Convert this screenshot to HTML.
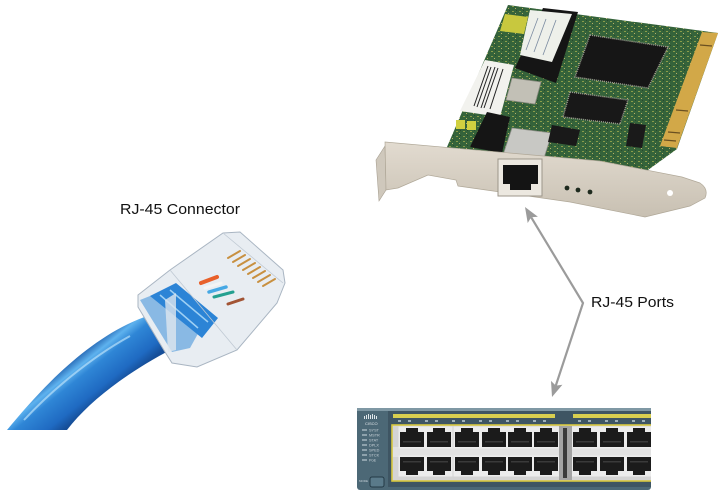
<!DOCTYPE html>
<html><head><meta charset="utf-8"><style>
html,body{margin:0;padding:0;background:#fff;}
svg{display:block;}
</style></head><body>
<svg width="727" height="496" viewBox="0 0 727 496" xmlns="http://www.w3.org/2000/svg">
<defs>
  <linearGradient id="cab" gradientUnits="userSpaceOnUse" x1="64" y1="364" x2="96" y2="404">
    <stop offset="0" stop-color="#1a58a8"/>
    <stop offset="0.22" stop-color="#5eb2ee"/>
    <stop offset="0.4" stop-color="#2f86d6"/>
    <stop offset="0.8" stop-color="#1f6ac2"/>
    <stop offset="1" stop-color="#164e98"/>
  </linearGradient>
  <linearGradient id="brk" x1="0" y1="0" x2="0" y2="1">
    <stop offset="0" stop-color="#e2dbd0"/>
    <stop offset="1" stop-color="#c8c0b2"/>
  </linearGradient>
  <pattern id="pcb" width="7" height="5" patternUnits="userSpaceOnUse">
    <rect width="7" height="5" fill="#35633a"/>
    <rect x="1" y="1" width="2" height="1" fill="#8a9c4a"/>
    <rect x="4" y="3" width="1" height="1" fill="#b8b066"/>
    <rect x="5" y="0" width="1" height="1" fill="#284a2c"/>
  </pattern>
  <g id="pT"><rect x="-1.5" y="-1.5" width="27" height="22" fill="#ececec"/><path d="M0,4 h6 v-4 h12 v4 h6 v15 h-24 z" fill="#1b1b1b"/><rect x="3" y="13" width="18" height="1.5" fill="#3a3a3a"/></g>
  <g id="pB"><rect x="-1.5" y="-1.5" width="27" height="21" fill="#ececec"/><path d="M0,0 h24 v14 h-6 v4 h-12 v-4 h-6 z" fill="#1b1b1b"/><rect x="3" y="4" width="18" height="1.5" fill="#3a3a3a"/></g>
</defs>
<rect width="727" height="496" fill="#fff"/>

<!-- ===== NIC card ===== -->
<polygon points="508,5 718,33 677,149 648,170 445,162 447,147" fill="url(#pcb)"/>
<polygon points="702,32 718,33 677,148 660,146" fill="#d2a848"/>
<g stroke="#6a5020" stroke-width="1.2">
  <line x1="700" y1="45" x2="712" y2="46"/>
  <line x1="668" y1="132" x2="680" y2="133"/>
  <line x1="664" y1="140" x2="676" y2="141"/>
  <line x1="676" y1="110" x2="688" y2="111"/>
</g>
<polygon points="505,14 528,17 524,34 500,31" fill="#c8c83e"/>
<polygon points="543,8 578,12 556,83 515,68" fill="#151515"/>
<polygon points="530,10 572,14 552,62 520,55" fill="#eef0ea"/>
<g stroke="#7a8aa0" stroke-width="0.8">
  <line x1="538" y1="18" x2="526" y2="50"/>
  <line x1="546" y1="19" x2="534" y2="52"/>
  <line x1="556" y1="20" x2="543" y2="55"/>
</g>
<polygon points="485,60 514,65 500,117 460,111" fill="#f2f2ee"/>
<g stroke="#222" stroke-width="1">
  <line x1="488" y1="66" x2="474" y2="106"/>
  <line x1="491" y1="67" x2="477" y2="107"/>
  <line x1="495" y1="67" x2="481" y2="108"/>
  <line x1="498" y1="68" x2="484" y2="108"/>
  <line x1="503" y1="69" x2="490" y2="109"/>
</g>
<polygon points="512,78 541,82 535,104 506,100" fill="#c2c0b6" stroke="#8a8a80" stroke-width="0.8"/>
<polygon points="590,35 668,47 648,88 575,77" fill="#161616" stroke="#9a9a90" stroke-width="1.5" stroke-dasharray="1,1"/>
<polygon points="570,92 628,100 620,124 563,117" fill="#181818" stroke="#9a9a90" stroke-width="1.5" stroke-dasharray="1,1"/>
<polygon points="630,123 646,125 642,148 626,146" fill="#1a1a1a"/>
<rect x="456" y="120" width="9" height="9" fill="#d0d040"/>
<rect x="467" y="121" width="9" height="9" fill="#d0d040"/>
<polygon points="487,112 510,117 502,153 470,147" fill="#151515"/>
<polygon points="512,128 552,133 543,161 502,158" fill="#c8c8c4" stroke="#8e8e88" stroke-width="0.8"/>
<polygon points="552,125 580,130 576,146 548,142" fill="#191919"/>

<!-- bracket -->
<polygon points="376,160 385,146 386,190 379,201" fill="#cfc8bc" stroke="#a8a092" stroke-width="0.6"/>
<path d="M385,142 L600,161 L682,177 L700,183 Q709,189 705,198 L690,206 L645,217 L570,202 L458,186 L456,180 L428,175 L398,188 L386,190 Z" fill="url(#brk)" stroke="#b0a898" stroke-width="0.7"/>
<circle cx="670" cy="193" r="3" fill="#fff"/>
<rect x="498" y="159" width="44" height="37" fill="#ece8e0" stroke="#9c968a" stroke-width="1"/>
<path d="M503,165 h35 v19 h-7 v6 h-21 v-6 h-7 z" fill="#141414"/>
<circle cx="567" cy="188" r="2.4" fill="#1e2a1e"/>
<circle cx="578" cy="190" r="2.4" fill="#1e2a1e"/>
<circle cx="590" cy="192" r="2.4" fill="#1e2a1e"/>

<!-- ===== cable ===== -->
<path d="M7,430 C40,390 90,335 150,315 L180,345 C130,370 90,400 67,430 Z" fill="url(#cab)"/>
<path d="M24,420 C50,392 90,358 130,336" stroke="#b8e0fa" stroke-width="2" fill="none" opacity="0.7"/>

<!-- ===== connector ===== -->
<polygon points="138,295 170,270 223,233 240,232 283,270 285,283 277,303 237,350 197,367 172,363 165,352 138,307" fill="#e8edf2" stroke="#a9b5c2" stroke-width="1"/>
<polygon points="140,300 160,292 200,330 190,348 172,352" fill="#3a8ed8" opacity="0.55"/>
<polygon points="150,296 176,283 218,318 202,338" fill="#2c84d6"/>
<g stroke="#9fd0f4" stroke-width="1.5">
  <line x1="160" y1="295" x2="198" y2="328"/>
  <line x1="170" y1="290" x2="208" y2="322"/>
</g>
<polygon points="165,300 176,293 176,350 168,352" fill="#dfe6ee" opacity="0.8"/>
<g stroke-linecap="round">
  <line x1="201" y1="283" x2="217" y2="277" stroke="#e8602a" stroke-width="4"/>
  <line x1="205" y1="288" x2="221" y2="283" stroke="#f4f4f4" stroke-width="3"/>
  <line x1="209" y1="292" x2="226" y2="287" stroke="#46a8e4" stroke-width="3.5"/>
  <line x1="214" y1="297" x2="233" y2="292" stroke="#24a090" stroke-width="3"/>
  <line x1="228" y1="304" x2="243" y2="299" stroke="#a25434" stroke-width="3"/>
</g>
<g stroke="#c89040" stroke-width="2" stroke-linecap="round">
  <line x1="228" y1="258" x2="240" y2="251"/>
  <line x1="233" y1="262" x2="245" y2="255"/>
  <line x1="238" y1="266" x2="250" y2="259"/>
  <line x1="243" y1="270" x2="255" y2="263"/>
  <line x1="248" y1="274" x2="260" y2="267"/>
  <line x1="253" y1="278" x2="265" y2="271"/>
  <line x1="258" y1="282" x2="270" y2="275"/>
  <line x1="263" y1="286" x2="275" y2="279"/>
</g>
<g stroke="#c0cad4" stroke-width="0.8" fill="none">
  <line x1="170" y1="270" x2="237" y2="350"/>
  <line x1="223" y1="233" x2="283" y2="283"/>
</g>

<!-- ===== labels ===== -->
<text x="120" y="214" font-family="'Liberation Sans', sans-serif" font-size="15" fill="#111" textLength="120" lengthAdjust="spacingAndGlyphs">RJ-45 Connector</text>
<text x="591" y="307" font-family="'Liberation Sans', sans-serif" font-size="15" fill="#111" textLength="83" lengthAdjust="spacingAndGlyphs">RJ-45 Ports</text>

<!-- ===== arrows ===== -->
<g stroke="#9b9b9b" stroke-width="2.2" fill="none">
  <polyline points="531.2,217.3 583,303 555.8,385.6"/>
</g>
<polygon points="525,207 537.9,216.8 531.2,217.3 527.7,223" fill="#9b9b9b"/>
<polygon points="552,397 562.4,384.7 555.8,385.6 551,380.9" fill="#9b9b9b"/>

<!-- ===== switch ===== -->
<rect x="357" y="408" width="294" height="82" rx="3" fill="#4c6876"/>
<rect x="357" y="408" width="294" height="3" fill="#7f98a4"/>
<rect x="388" y="411" width="263" height="76" fill="#3e5563"/>
<rect x="393" y="414" width="162" height="4" fill="#d8cf50"/>
<rect x="573" y="414" width="78" height="4" fill="#d8cf50"/>
<g fill="#9fb0b8">
  <rect x="398" y="420" width="3" height="2"/><rect x="408" y="420" width="3" height="2"/>
  <rect x="425" y="420" width="3" height="2"/><rect x="435" y="420" width="3" height="2"/>
  <rect x="452" y="420" width="3" height="2"/><rect x="462" y="420" width="3" height="2"/>
  <rect x="479" y="420" width="3" height="2"/><rect x="489" y="420" width="3" height="2"/>
  <rect x="506" y="420" width="3" height="2"/><rect x="516" y="420" width="3" height="2"/>
  <rect x="533" y="420" width="3" height="2"/><rect x="543" y="420" width="3" height="2"/>
  <rect x="578" y="420" width="3" height="2"/><rect x="588" y="420" width="3" height="2"/>
  <rect x="605" y="420" width="3" height="2"/><rect x="615" y="420" width="3" height="2"/>
  <rect x="632" y="420" width="3" height="2"/><rect x="642" y="420" width="3" height="2"/>
</g>
<rect x="392" y="425" width="262" height="56" fill="#d4d4d4" stroke="#d8c840" stroke-width="1.6"/>
<rect x="393" y="447" width="258" height="10" fill="#e2e2e2"/>
<use href="#pT" x="400" y="428"/><use href="#pT" x="427" y="428"/><use href="#pT" x="455" y="428"/>
<use href="#pT" x="482" y="428"/><use href="#pT" x="508" y="428"/><use href="#pT" x="534" y="428"/>
<use href="#pT" x="573" y="428"/><use href="#pT" x="600" y="428"/><use href="#pT" x="627" y="428"/>
<use href="#pB" x="400" y="457"/><use href="#pB" x="427" y="457"/><use href="#pB" x="455" y="457"/>
<use href="#pB" x="482" y="457"/><use href="#pB" x="508" y="457"/><use href="#pB" x="534" y="457"/>
<use href="#pB" x="573" y="457"/><use href="#pB" x="600" y="457"/><use href="#pB" x="627" y="457"/>
<rect x="559" y="426" width="13" height="54" fill="#a4a4a4"/>
<rect x="563" y="428" width="4" height="50" fill="#3a3a3a"/>
<rect x="651" y="405" width="10" height="90" fill="#fff"/>
<g fill="#dfe6ea">
  <rect x="364" y="416" width="1" height="3"/><rect x="366" y="415" width="1" height="4"/>
  <rect x="368" y="414" width="1" height="5"/><rect x="370" y="415" width="1" height="4"/>
  <rect x="372" y="414" width="1" height="5"/><rect x="374" y="415" width="1" height="4"/>
  <rect x="376" y="416" width="1" height="3"/>
</g>
<text x="365" y="425" font-family="'Liberation Sans', sans-serif" font-size="4" fill="#e0e6ea">CISCO</text>
<g fill="#8ea2ac">
  <rect x="362" y="429" width="5" height="2"/><rect x="362" y="434" width="5" height="2"/>
  <rect x="362" y="439" width="5" height="2"/><rect x="362" y="444" width="5" height="2"/>
  <rect x="362" y="449" width="5" height="2"/><rect x="362" y="454" width="5" height="2"/>
  <rect x="362" y="459" width="5" height="2"/>
</g>
<g font-family="'Liberation Sans', sans-serif" font-size="3.8" fill="#c8d2d8">
  <text x="369" y="431.5">SYST</text><text x="369" y="436.5">MSTR</text>
  <text x="369" y="441.5">STAT</text><text x="369" y="446.5">DPLX</text>
  <text x="369" y="451.5">SPED</text><text x="369" y="456.5">STCK</text>
  <text x="369" y="461.5">PoE</text>
</g>
<rect x="370" y="477" width="14" height="10" rx="2" fill="#5a7a8a" stroke="#243a46" stroke-width="1"/>
<text x="359" y="482" font-family="'Liberation Sans', sans-serif" font-size="3" fill="#c8d2d8">MODE</text>
</svg>
</body></html>
